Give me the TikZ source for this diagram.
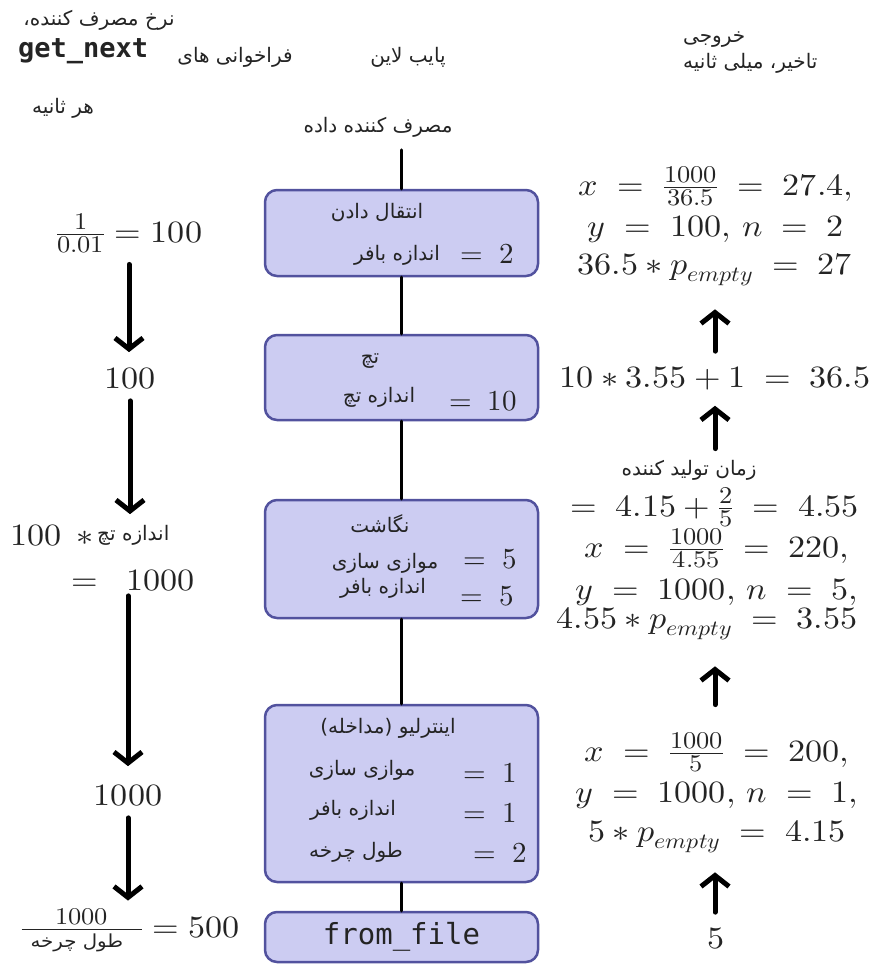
\documentclass[tikz,border=0pt]{standalone}
\usepackage{graphicx}
\usepackage{fontspec}
\usepackage{unicode-math}
\usepackage{pgf,tikz}
\usetikzlibrary{arrows.meta}
\TeXXeTstate=1
\newfontfamily\farsifont[Script=Arabic]{DejaVu Sans}
\newfontfamily\codefont{DejaVu Sans Mono}
\definecolor{ccccff}{rgb}{0.80,0.80,0.95}
\definecolor{ttttaa}{rgb}{0.32,0.32,0.62}
\definecolor{qqqqqq}{rgb}{0.14,0.14,0.14}
\newcommand{\eqbox}[1]{\scalebox{1.1}[1]{$#1$}}
\newcommand{\midfrac}[2]{\frac{\mbox{\fontsize{24}{24}\selectfont$#1$}}{\mbox{\fontsize{24}{24}\selectfont$#2$}}}
\tikzset{
  farsi/.style={font=\farsifont\fontsize{20}{24}\selectfont},
  eqn/.style={font=\fontsize{31}{36}\selectfont},
  boxval/.style={font=\fontsize{29}{34}\selectfont},
  stagebox/.style={draw=ttttaa,fill=ccccff,line width=2.5pt,rounded corners=12pt,minimum width=273pt},
  pipe/.style={line width=3.5pt},
  flow/.style={line width=5pt,-{Straight Barb[length=11pt,width=28pt]}}
}
\begin{document}
\begin{tikzpicture}[line cap=round,line join=round,x=1pt,y=-1pt,every node/.style={inner sep=0pt,text=qqqqqq}]
\useasboundingbox (0,0) rectangle (874,967);
% headers
\node[farsi,anchor=base] (rate) at (99,25) {\beginR نرخ مصرف کننده،\endR};
\node[anchor=base west,font=\codefont\bfseries\fontsize{27}{30}\selectfont] (getnext) at (18,57) {get\_next};
\node[farsi,anchor=base] (calls) at (235,62) {\beginR فراخوانی های\endR};
\node[farsi,anchor=base] (persec) at (63,113) {\beginR هر ثانیه\endR};
\node[farsi,anchor=base] (pipeline) at (408,62) {\beginR پایب لاین\endR};
\node[farsi,anchor=base] (consumer) at (378,132) {\beginR مصرف کننده داده\endR};
\node[farsi,anchor=base west] (output) at (683,42) {\beginR خروجی\endR};
\node[farsi,anchor=base west] (latency) at (683,68) {\beginR تاخیر، میلی ثانیه\endR};
% pipeline boxes
\node[stagebox,minimum height=86pt] (prefetch) at (401.5,233) {};
\node[stagebox,minimum height=85pt] (batch) at (401.5,377.5) {};
\node[stagebox,minimum height=118pt] (map) at (401.5,559) {};
\node[stagebox,minimum height=177pt] (interleave) at (401.5,793.5) {};
\node[stagebox,minimum height=50pt,font=\codefont\fontsize{29}{32}\selectfont] (fromfile) at (401.5,937) {from\_file};
\coordinate (src) at (401.5,150);
\draw[pipe] (src) -- (prefetch.north);
\draw[pipe] (prefetch.south) -- (batch.north);
\draw[pipe] (batch.south) -- (map.north);
\draw[pipe] (map.south) -- (interleave.north);
\draw[pipe] (interleave.south) -- (fromfile.north);
% box texts
\node[farsi,anchor=base] (prefetchname) at (377,218) {\beginR انتقال دادن\endR};
\node[farsi,anchor=base] (prefetchbuf) at (397,260) {\beginR اندازه بافر\endR};
\node[boxval,anchor=base] (prefetchbufv) at (487,263) {$=\;2$};
\node[farsi,anchor=base] (batchname) at (370,363) {\beginR تچ\endR};
\node[farsi,anchor=base] (batchsize) at (379,402) {\beginR اندازه تچ\endR};
\node[boxval,anchor=base] (batchsizev) at (483,410) {$=\;10$};
\node[farsi,anchor=base] (mapname) at (380,532) {\beginR نگاشت\endR};
\node[farsi,anchor=base] (mappar) at (385,568) {\beginR موازی سازی\endR};
\node[farsi,anchor=base] (mapbuf) at (383,593) {\beginR اندازه بافر\endR};
\node[boxval,anchor=base] (mapparv) at (490,568) {$=\;5$};
\node[boxval,anchor=base] (mapbufv) at (487,605) {$=\;5$};
\node[farsi,anchor=base] (ilname) at (388,733) {\beginR اینترلیو (مداخله)\endR};
\node[farsi,anchor=base] (ilpar) at (362,775) {\beginR موازی سازی\endR};
\node[farsi,anchor=base] (ilbuf) at (353,815) {\beginR اندازه بافر\endR};
\node[farsi,anchor=base] (ilcycle) at (356,857) {\beginR طول چرخه\endR};
\node[boxval,anchor=base] (ilparv) at (490,782) {$=\;1$};
\node[boxval,anchor=base] (ilbufv) at (490,822) {$=\;1$};
\node[boxval,anchor=base] (ilcyclev) at (500,862) {$=\;2$};
% consumer rate column
\node[eqn,anchor=base] (l1) at (129,242) {\eqbox{\midfrac{1}{0.01} = 100}};
\node[eqn,anchor=base] (l2) at (130,388) {\eqbox{100}};
\node[eqn,anchor=base west] (l3a) at (10,545) {\eqbox{100\;\,*}};
\node[farsi,anchor=base west] (l3n) at (97,540) {\beginR اندازه تچ\endR};
\node[eqn,anchor=base] (l3b) at (128,590) {\eqbox{{}=\;\;1000}};
\node[eqn,anchor=base] (l4) at (128,805) {\eqbox{1000}};
\node[eqn,anchor=base] (l5) at (130,937) {\eqbox{\midfrac{1000}{\hbox to 109pt{\hspace{8pt}\farsifont\fontsize{18}{20}\selectfont\beginR طول چرخه\endR\hfil}} = 500}};
\draw[flow,shorten <=11pt,shorten >=15pt] (l1.south) -- (l1.south |- l2.north);
\draw[flow,shorten <=12pt,shorten >=10pt] (l2.south) -- (l2.south |- l3a.north);
\draw[flow,shorten <=5pt,shorten >=18pt] (l3b.south) -- (l3b.south |- l4.north);
\draw[flow,shorten <=12pt,shorten >=8pt] (l4.south) -- (l4.south |- l5.north);
% latency column
\node[eqn,anchor=base] (r1a) at (716,195) {\eqbox{x \;=\; \midfrac{1000}{36.5} \;=\; 27.4,}};
\node[eqn,anchor=base] (r1b) at (716,236) {\eqbox{y \;=\; 100,\, n \;=\; 2}};
\node[eqn,anchor=base] (r1c) at (715,274) {\eqbox{36.5 * p_{empty} \;=\; 27}};
\node[eqn,anchor=base] (r2) at (715,387) {\eqbox{10 * 3.55 + 1 \;=\; 36.5}};
\node[farsi,anchor=base] (r3t) at (689,475) {\beginR زمان تولید کننده\endR};
\node[eqn,anchor=base] (r3a) at (705,516) {\eqbox{{}\;=\; 4.15 + \midfrac{2}{5} \;=\; 4.55}};
\node[eqn,anchor=base] (r3b) at (717,557) {\eqbox{x \;=\; \midfrac{1000}{4.55} \;=\; 220,}};
\node[eqn,anchor=base] (r3c) at (717,599) {\eqbox{y \;=\; 1000,\, n \;=\; 5,}};
\node[eqn,anchor=base] (r3d) at (707,628) {\eqbox{4.55 * p_{empty} \;=\; 3.55}};
\node[eqn,anchor=base] (r4a) at (717,761) {\eqbox{x \;=\; \midfrac{1000}{5} \;=\; 200,}};
\node[eqn,anchor=base] (r4b) at (717,802) {\eqbox{y \;=\; 1000,\, n \;=\; 1,}};
\node[eqn,anchor=base] (r4c) at (717,841) {\eqbox{5 * p_{empty} \;=\; 4.15}};
\node[eqn,anchor=base] (r5) at (716,948) {\eqbox{5}};
\draw[flow,shorten <=15pt,shorten >=23pt] (r2.north) -- (r2.north |- r1c.south);
\draw[flow,shorten <=11pt,shorten >=16pt] (r3t.north -| r2.south) -- (r2.south);
\draw[flow,shorten <=28pt,shorten >=26pt] (r4a.north -| r2.south) -- (r3d.south -| r2.south);
\draw[flow,shorten <=15pt,shorten >=19pt] (r5.north -| r2.south) -- (r4c.south -| r2.south);
\end{tikzpicture}
\end{document}
